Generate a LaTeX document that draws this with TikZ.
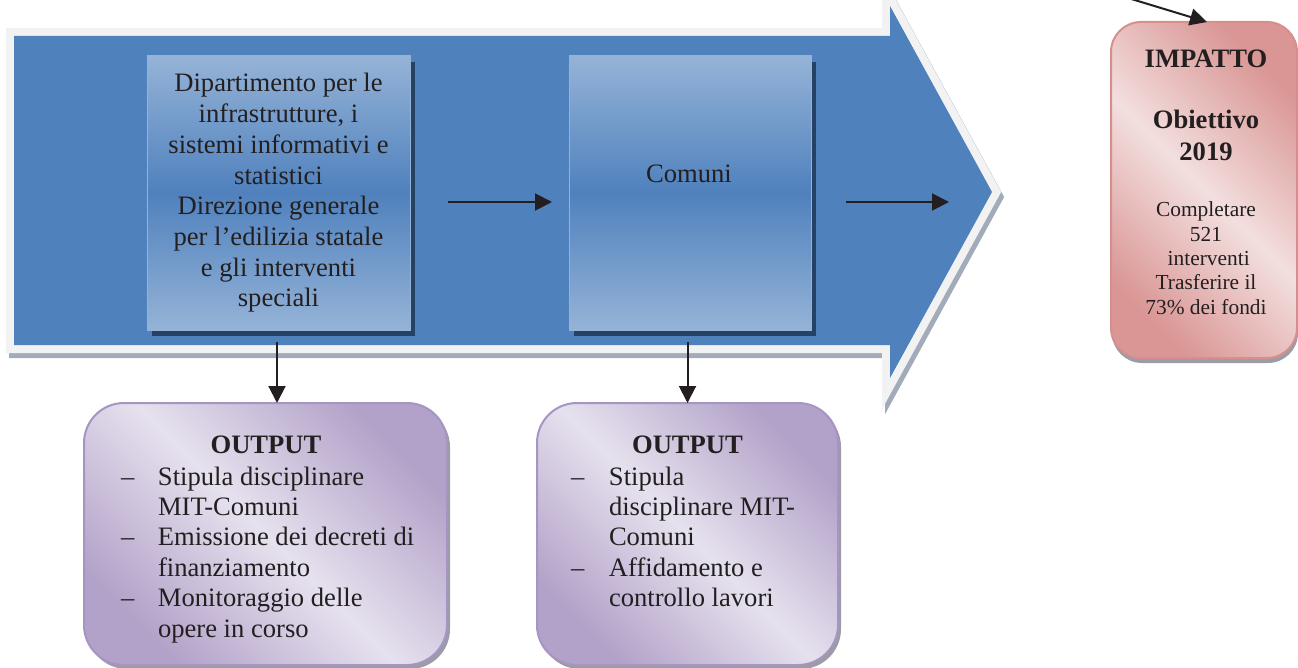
\documentclass[tikz,border=0pt]{standalone}
\usepackage{fontspec}
\setmainfont{Liberation Serif}
\usetikzlibrary{arrows.meta,shadows}
\definecolor{bandblue}{HTML}{4F81BD}
\definecolor{bandrim}{HTML}{F2F2F2}
\definecolor{bandshade}{HTML}{A2ABBA}
\definecolor{boxlight}{HTML}{95B3D7}
\definecolor{boxshade}{HTML}{254264}
\definecolor{lilaclight}{HTML}{E6E1EE}
\definecolor{lilacdark}{HTML}{B2A1C8}
\definecolor{lilacrim}{HTML}{A694C2}
\definecolor{roselight}{HTML}{F3DFDF}
\definecolor{rosedark}{HTML}{D99694}
\definecolor{roserim}{HTML}{D78F8D}
\definecolor{greyshade}{HTML}{9C9CA6}
\definecolor{ink}{HTML}{231F20}
\begin{document}
\begin{tikzpicture}[x=1pt,y=-1pt,
  every node/.style={text=ink, inner sep=0pt, outer sep=0pt},
  txt/.style={font=\fontsize{26.6pt}{30.7pt}\selectfont},
  listtxt/.style={font=\fontsize{26.6pt}{30.4pt}\selectfont},
  boldtxt/.style={font=\bfseries\fontsize{26.6pt}{32pt}\selectfont},
  smalltxt/.style={font=\fontsize{21.4pt}{24.3pt}\selectfont},
  bandshape/.style={insert path={(14,36) -- (890,36) -- (890,6) -- (992,192)
      -- (890,378) -- (890,345) -- (14,345) -- cycle}},
  deptbox/.style={rectangle, draw=boxlight, line width=1pt,
      top color=boxlight, bottom color=boxlight, middle color=bandblue,
      general shadow={fill=boxshade, shadow xshift=5pt, shadow yshift=-6pt}},
  outbox/.style={rectangle, rounded corners=40pt, draw=lilacrim, line width=2pt,
      top color=lilacdark, bottom color=lilacdark, middle color=lilaclight,
      shading angle=-45,
      general shadow={fill=greyshade, shadow xshift=3pt, shadow yshift=-4pt}},
  impbox/.style={rectangle, rounded corners=30pt, draw=roserim, line width=2pt,
      top color=rosedark, bottom color=rosedark, middle color=roselight,
      shading angle=-45,
      general shadow={fill=greyshade, shadow xshift=1pt, shadow yshift=-5pt}},
  conn/.style={draw=ink, line width=2pt, -{Triangle[length=17pt,width=17pt]}}
]
\clip (0,0) rectangle (1298,668);

% chevron band: shadow, light rim, blue body
\path[shift={(3,5)}, fill=bandshade, draw=bandshade, line width=16pt, bandshape];
\path[fill=bandrim, draw=bandrim, line width=16pt, bandshape];
\path[fill=bandblue, bandshape];

% stage boxes inside the band
\node[deptbox, minimum width=263pt, minimum height=274pt] (b1) at (278.5,193) {};
\node[txt, anchor=base] (b1t) at (278.5,92) {\begin{tabular}[t]{@{}c@{}}
  Dipartimento per le\\ infrastrutture, i\\ sistemi informativi e\\ statistici\\
  Direzione generale\\ per l’edilizia statale\\ e gli interventi\\ speciali
  \end{tabular}};

\node[deptbox, minimum width=242pt, minimum height=274pt] (b2) at (690,193) {};
\node[txt, anchor=base] (b2t) at (689,183) {Comuni};

\coordinate (bandtip) at (949,202);

% output boxes
\node[outbox, minimum width=363pt, minimum height=262pt] (o1) at (265.5,534) {};
\node[boldtxt, anchor=base] (o1t) at (266,453) {OUTPUT};
\node[listtxt, anchor=base west] (o1l) at (121,485) {\begin{tabular}[t]{@{}p{37pt}@{}l@{}}
  –&Stipula disciplinare\\ &MIT-Comuni\\ –&Emissione dei decreti di\\
  &finanziamento\\ –&Monitoraggio delle\\ &opere in corso
  \end{tabular}};

\node[outbox, minimum width=301pt, minimum height=262pt] (o2) at (687.5,534) {};
\node[boldtxt, anchor=base] (o2t) at (687.5,453) {OUTPUT};
\node[listtxt, anchor=base west] (o2l) at (571,485) {\begin{tabular}[t]{@{}p{38pt}@{}l@{}}
  –&Stipula\\ &disciplinare MIT-\\ &Comuni\\ –&Affidamento e\\ &controllo lavori
  \end{tabular}};

% impact box
\node[impbox, minimum width=186pt, minimum height=336pt] (p) at (1204,190) {};
\node[boldtxt, anchor=base] (p1) at (1206,68) {IMPATTO};
\node[boldtxt, anchor=base] (p2) at (1206,129) {\begin{tabular}[t]{@{}c@{}}Obiettivo\\ 2019\end{tabular}};
\node[smalltxt, anchor=base] (p3) at (1206,217) {\begin{tabular}[t]{@{}c@{}}
  Completare\\ 521\\ \ interventi\\ Trasferire il\\ 73\% dei fondi\end{tabular}};

\coordinate (incoming) at (1128,-2);

% connectors
\draw[conn, shorten <=38pt, shorten >=17pt] ([yshift=-9pt]b1.east) -- ([yshift=-9pt]b2.west);
\draw[conn, shorten <=35pt] ([yshift=-9pt]b2.east) -- (bandtip);
\draw[conn, shorten <=12pt] ([xshift=-1.5pt]b1.south) -- ([xshift=-1.5pt]b1.south |- o1.north);
\draw[conn, shorten <=12pt] (b2.south -| o2.north) -- (o2.north);
\draw[conn] (incoming) -- ([xshift=3pt]p.north);
\end{tikzpicture}
\end{document}
